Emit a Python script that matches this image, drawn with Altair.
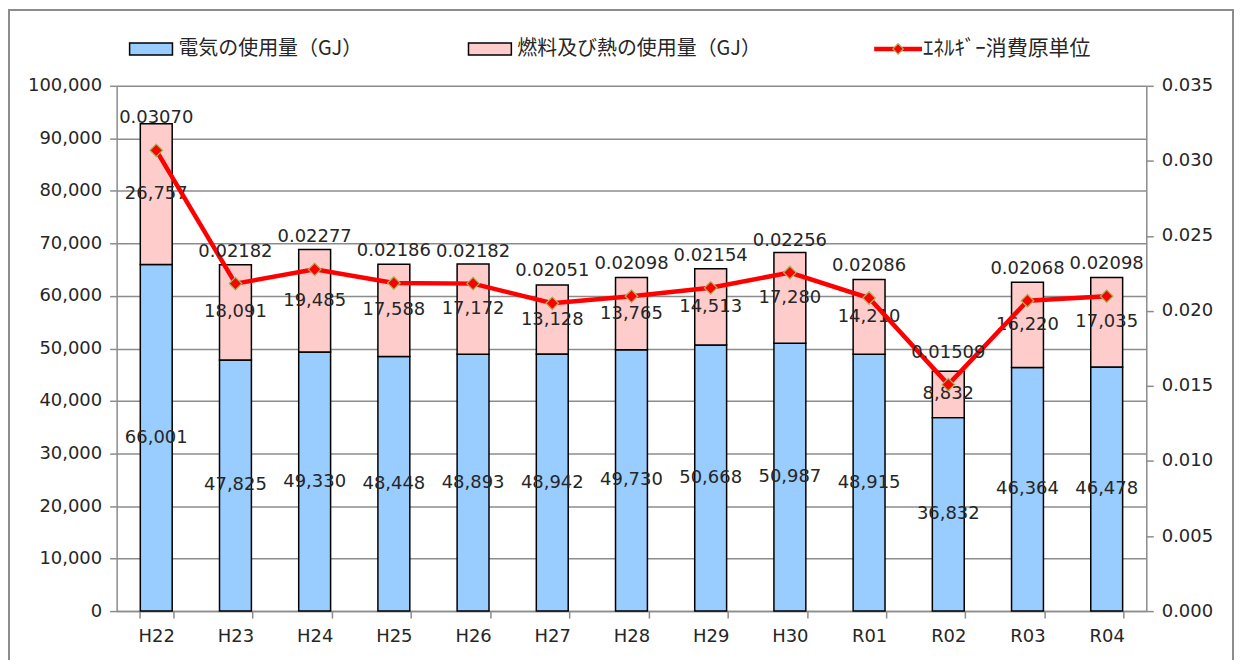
import altair as alt
import pandas as pd

years = ["H22", "H23", "H24", "H25", "H26", "H27", "H28", "H29", "H30", "R01", "R02", "R03", "R04"]
elec = [66001, 47825, 49330, 48448, 48893, 48942, 49730, 50668, 50987, 48915, 36832, 46364, 46478]
fuel = [26757, 18091, 19485, 17588, 17172, 13128, 13765, 14513, 17280, 14210, 8832, 16220, 17035]
intensity = [0.03070, 0.02182, 0.02277, 0.02186, 0.02182, 0.02051, 0.02098, 0.02154, 0.02256, 0.02086, 0.01509, 0.02068, 0.02098]

S_ELEC = "電気の使用量（GJ）"
S_FUEL = "燃料及び熱の使用量（GJ）"
S_INT = "ｴﾈﾙｷﾞｰ消費原単位"

FONT = "DejaVu Sans"
JFONT = "Noto Sans CJK JP"
W, H = 1033, 527
BLUE = "#99CCFF"
PINK = "#FFCCCC"
GRID = "#8c8c8c"
TXT = "#262626"

rows = []
for i, y in enumerate(years):
    rows.append({"year": y, "series": S_ELEC, "lo": 0, "hi": elec[i],
                 "mid": elec[i] / 2, "val": elec[i]})
    rows.append({"year": y, "series": S_FUEL, "lo": elec[i], "hi": elec[i] + fuel[i],
                 "mid": elec[i] + fuel[i] / 2, "val": fuel[i]})
bars_df = pd.DataFrame(rows)
line_df = pd.DataFrame({"year": years, "v": intensity})

xaxis = alt.Axis(orient="bottom", labelFontSize=18, labelColor=TXT, labelFont=FONT,
                 labelPadding=10, ticks=True, tickBand="extent", tickSize=7, tickColor=GRID,
                 tickWidth=1.5, domainColor=GRID, domainWidth=1.5, labelAngle=0, grid=False)
xscale = alt.Scale(paddingInner=0.57, paddingOuter=0.285)


def X():
    return alt.X("year:N", sort=years, title=None, scale=xscale, axis=xaxis)


yscale = alt.Scale(domain=[0, 100000], nice=False)
yaxis = alt.Axis(values=list(range(0, 100001, 10000)), format=",d", labelFontSize=18,
                 labelColor=TXT, labelFont=FONT, grid=True, gridColor=GRID, gridWidth=1.5,
                 tickColor=GRID, tickSize=7, tickWidth=1.5, domainColor=GRID, domainWidth=1.5,
                 labelPadding=8)

rscale = alt.Scale(domain=[0, 0.035], nice=False)
raxis = alt.Axis(orient="right", values=[i * 0.005 for i in range(8)], format=".3f",
                 labelFontSize=18, labelColor=TXT, labelFont=FONT, grid=False,
                 tickColor=GRID, tickSize=7, tickWidth=1.5, domainColor=GRID, domainWidth=1.5,
                 labelPadding=8)

color = alt.Color("series:N", scale=alt.Scale(domain=[S_ELEC, S_FUEL], range=[BLUE, PINK]), legend=None)

base = alt.Chart(bars_df)
bars = base.mark_bar(stroke="black", strokeWidth=1.5, size=32).encode(
    x=X(), y=alt.Y("lo:Q", title=None, scale=yscale, axis=yaxis), y2="hi:Q", color=color)
bar_labels = base.mark_text(font=FONT, fontSize=18, color=TXT).encode(
    x=X(), y=alt.Y("mid:Q", title=None, scale=yscale, axis=yaxis),
    text=alt.Text("val:Q", format=","))

lbase = alt.Chart(line_df)
yr = alt.Y("v:Q", title=None, scale=rscale, axis=raxis)
line = lbase.mark_line(color="#FF0000", strokeWidth=4.5).encode(x=X(), y=yr)
pts = lbase.mark_point(shape="diamond", filled=True, fill="#FF0000", stroke="#9BBB59",
                       strokeWidth=1.2, size=160, opacity=1).encode(x=X(), y=yr)
line_labels = lbase.mark_text(font=FONT, fontSize=18, color=TXT, dy=-32).encode(
    x=X(), y=yr, text=alt.Text("v:Q", format=".5f"))

left = alt.layer(bars, bar_labels)
right = alt.layer(line, pts, line_labels)

# Legend and outer frame (layout only)
one = alt.Chart(pd.DataFrame({"k": [0]}))
leg_y = -37
legend = alt.layer(
    one.mark_rect(fill=BLUE, stroke="black", strokeWidth=1.5).encode(
        x=alt.value(13), x2=alt.value(56), y=alt.value(leg_y - 6), y2=alt.value(leg_y + 6)),
    one.mark_text(text=S_ELEC, font=JFONT, fontSize=20, align="left", baseline="middle", color=TXT).encode(
        x=alt.value(62), y=alt.value(leg_y)),
    one.mark_rect(fill=PINK, stroke="black", strokeWidth=1.5).encode(
        x=alt.value(353), x2=alt.value(396), y=alt.value(leg_y - 6), y2=alt.value(leg_y + 6)),
    one.mark_text(text=S_FUEL, font=JFONT, fontSize=20, align="left", baseline="middle", color=TXT).encode(
        x=alt.value(402), y=alt.value(leg_y)),
    one.mark_rule(color="#FF0000", strokeWidth=4.5).encode(
        x=alt.value(760), x2=alt.value(808), y=alt.value(leg_y)),
    one.mark_point(shape="diamond", filled=True, fill="#FF0000", stroke="#9BBB59", strokeWidth=1.2,
                   size=110, opacity=1).encode(x=alt.value(784), y=alt.value(leg_y)),
    one.mark_text(text=S_INT, font=JFONT, fontSize=21, align="left", baseline="middle", color=TXT).encode(
        x=alt.value(809), y=alt.value(leg_y)),
    one.mark_rect(fillOpacity=0, stroke="#8c8c8c", strokeWidth=2).encode(
        x=alt.value(-108), x2=alt.value(1120), y=alt.value(-76), y2=alt.value(H + 80)),
)

chart = alt.layer(left, right, legend).resolve_scale(y="independent").properties(
    width=W, height=H,
    autosize=alt.AutoSizeParams(type="none"),
    padding={"left": 109, "top": 77, "right": 90, "bottom": 48},
).configure_view(stroke=None)

chart.save("out.html", embed_options={"renderer": "svg", "actions": False})
